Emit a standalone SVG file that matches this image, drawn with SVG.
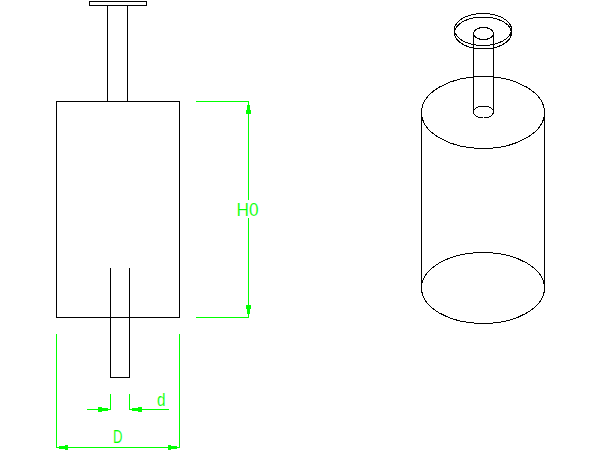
<svg xmlns="http://www.w3.org/2000/svg" width="600" height="450" viewBox="0 0 600 450">
<defs>
<style>
.o{fill:none;stroke:#000;stroke-width:1;shape-rendering:crispEdges}
.e{fill:none;stroke:#000;stroke-width:1;shape-rendering:crispEdges}
.g{fill:none;stroke:#0f0;stroke-width:1;shape-rendering:crispEdges}
.a{fill:#0f0;stroke:none;shape-rendering:crispEdges}
.t{fill:#0f0;stroke:#fff;stroke-width:.15;font-family:"Liberation Sans",Arial,sans-serif;font-size:18px;text-anchor:start}
</style>
</defs>
<rect width="600" height="450" fill="#fff"/>
<g id="front-view">
<rect class="o" x="56.5" y="101.5" width="123" height="216"/>
<rect class="o" x="89.5" y="1.5" width="57" height="4"/>
<path class="o" d="M107.5 5.5V101.5M127.5 5.5V101.5"/>
<path class="o" d="M110.5 267.5V377.5H129.5V267.5"/>
</g>
<g id="iso-view">
<ellipse class="e" cx="483" cy="112.5" rx="61.500" ry="36"/>
<ellipse class="e" cx="483" cy="288" rx="61.500" ry="35.500"/>
<path class="o" d="M421.5 112V288M544.5 112V288"/>
<ellipse class="e" cx="483" cy="29.5" rx="28.500" ry="16"/>
<ellipse class="e" cx="483" cy="33" rx="28.500" ry="16"/>
<ellipse class="e" cx="483.5" cy="33.5" rx="10" ry="6"/>
<ellipse class="e" cx="483.5" cy="112" rx="10" ry="6"/>
<path class="o" d="M473.5 33.5V112M493.5 33.5V112"/>
</g>
<g id="connectors">
<path class="g" d="M196 101.5H248.5M196 317.5H248.5M248.5 101.5V200M248.5 218V317.5"/>
<path class="a" d="M247 105H250V110H251V114H246V110H247ZM246 305H251V309H250V314H247V309H246Z"/>
<path class="g" d="M56.5 334V448M179.5 334V448M56.5 447.5H179.5"/>
<path class="a" d="M59 446H65V445H68V450H65V449H59ZM168 445H171V446H177V449H171V450H168Z"/>
<path class="g" d="M110.5 394V410M129.5 394V410M87 409.5H110.5M129.5 409.5H169"/>
<path class="a" d="M98 407H102V408H108V411H102V412H98ZM132 408H138V407H142V412H138V411H132Z"/>
</g>
<g id="labels">
<text class="t" x="236.500" y="216" textLength="22" lengthAdjust="spacingAndGlyphs">H0</text>
<text class="t" x="157" y="406" textLength="8.500" lengthAdjust="spacingAndGlyphs">d</text>
<text class="t" x="113" y="443" textLength="9.500" lengthAdjust="spacingAndGlyphs">D</text>
</g>
</svg>
